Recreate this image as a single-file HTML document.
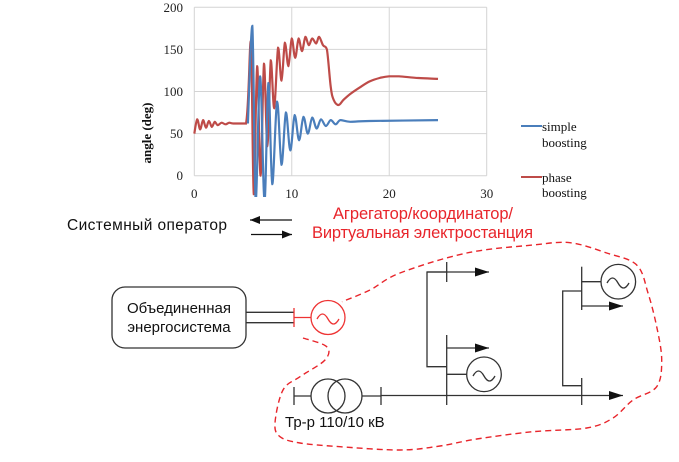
<!DOCTYPE html>
<html><head><meta charset="utf-8"><style>
html,body{margin:0;padding:0;background:#fff;}
svg{display:block;}
.ser{font-family:"Liberation Serif",serif;}
.sans{font-family:"Liberation Sans","Noto Sans CJK SC",sans-serif;}
</style></head><body>
<svg id="root" width="679" height="462" viewBox="0 0 679 462" xmlns="http://www.w3.org/2000/svg">
<g id="chart">
  <defs><clipPath id="pc"><rect x="150" y="0" width="350" height="197"/></clipPath></defs>
  <g id="grid"></g>
  <g id="yticks" class="ser" font-size="13" fill="#222" text-anchor="end"></g>
  <g id="xticks" class="ser" font-size="13" fill="#222" text-anchor="middle"></g>
  <text class="ser" font-size="13" font-weight="bold" fill="#111" text-anchor="middle" transform="translate(151,133) rotate(-90)">angle (deg)</text>
  <g id="series" clip-path="url(#pc)"></g>
  <g class="ser" font-size="13" fill="#111">
    <g>
      <line x1="521" y1="126" x2="542" y2="126" stroke="#4a7ebb" stroke-width="2"/>
      <text x="542" y="131">simple</text><text x="542" y="147">boosting</text>
    </g>
    <g>
      <line x1="521" y1="177" x2="542" y2="177" stroke="#be4b48" stroke-width="2"/>
      <text x="542" y="182">phase</text><text x="542" y="197">boosting</text>
    </g>
  </g>
</g>

<g stroke="#333" stroke-width="1.3" fill="none">
  <defs>
    <marker id="ah" markerWidth="10" markerHeight="8" refX="10" refY="4" orient="auto" markerUnits="userSpaceOnUse"><path d="M0,0 L10,4 L0,8 Z" fill="#111" stroke="none"/></marker>
    <marker id="ah2" markerWidth="14" markerHeight="9" refX="14" refY="4.5" orient="auto" markerUnits="userSpaceOnUse"><path d="M0,0 L14,4.5 L0,9 Z" fill="#111" stroke="none"/></marker>
  </defs>
  <text class="sans" x="67" y="230" font-size="15.5" fill="#111" stroke="none" textLength="160">Системный оператор</text>
  <line x1="292" y1="220" x2="250" y2="220" stroke="#111" marker-end="url(#ah)"/>
  <line x1="251" y1="234.5" x2="292" y2="234.5" stroke="#111" marker-end="url(#ah)"/>
  <text class="sans" x="333" y="219" font-size="16.5" fill="#e8252b" stroke="none" textLength="180">Агрегатор/координатор/</text>
  <text class="sans" x="312" y="238" font-size="16.5" fill="#e8252b" stroke="none" textLength="221">Виртуальная электростанция</text>

  <rect x="112" y="287" width="134" height="61" rx="13"/>
  <text class="sans" x="179" y="313" font-size="15" fill="#111" stroke="none" text-anchor="middle">Объединенная</text>
  <text class="sans" x="179" y="332" font-size="15" fill="#111" stroke="none" text-anchor="middle">энергосистема</text>
  <line x1="246" y1="312.3" x2="294" y2="312.3"/><line x1="246" y1="322.7" x2="294" y2="322.7"/>
  <g stroke="#e33">
    <line x1="294" y1="308" x2="294" y2="327"/>
    <line x1="294" y1="317.5" x2="311" y2="317.5"/>
    <circle cx="328" cy="317.5" r="17"/>
    <path d="M317,319 q5.5,-10 11,0 t11,0"/>
  </g>
  <g>
    <line x1="294" y1="387" x2="294" y2="405"/>
    <line x1="294" y1="396" x2="311" y2="396"/>
    <circle cx="328" cy="396" r="17"/><circle cx="345" cy="396" r="17"/>
    <line x1="362" y1="396" x2="381" y2="396"/>
    <line x1="381" y1="387" x2="381" y2="405"/>
  </g>
  <text class="sans" x="285" y="427" font-size="15" fill="#111" stroke="none">Тр-р 110/10 кВ</text>
  <line x1="381" y1="395.5" x2="623" y2="395.5" marker-end="url(#ah2)"/>
  <line x1="446.7" y1="262" x2="446.7" y2="282"/>
  <line x1="427" y1="272" x2="489" y2="272" marker-end="url(#ah2)"/>
  <polyline points="446.7,272 427,272 427,366.7 446.7,366.7"/>
  <line x1="446.7" y1="335" x2="446.7" y2="405"/>
  <line x1="446.7" y1="348" x2="489" y2="348" marker-end="url(#ah2)"/>
  <line x1="446.7" y1="374.3" x2="467" y2="374.3"/>
  <circle cx="484" cy="374.3" r="17.3"/>
  <path d="M473,376 q5.5,-10 11,0 t11,0"/>
  <line x1="581.7" y1="266.7" x2="581.7" y2="310"/>
  <line x1="581.7" y1="281.7" x2="601" y2="281.7"/>
  <circle cx="618.3" cy="281.7" r="17.3"/>
  <path d="M607,283 q5.5,-10 11,0 t11,0"/>
  <line x1="581.7" y1="306" x2="623" y2="306" marker-end="url(#ah2)"/>
  <polyline points="581.7,291 562.7,291 562.7,385.7 581.7,385.7"/>
  <line x1="581.7" y1="378" x2="581.7" y2="405"/>
  <path id="boundary" stroke="#e8252b" stroke-width="1.4" stroke-dasharray="6,4"/>
</g>
</svg>
<script>
const xTicks = [0, 10, 20, 30];
const yTicks = [0, 50, 100, 150, 200];
const blueT = [5.5,5.95,6.3,6.75,7.2,7.6,8.0,8.5,8.95,9.4,9.85,10.3,10.75,11.2,11.65,12.1,12.55,13,13.5,14,14.5,15,16,18,25];
const blueV = [62,178,-30,118,-30,110,-10,88,13,75,30,72,42,70,50,69,56,67,59,66,61,66,64,65,66];
const redT = [0,0.3,0.6,0.9,1.2,1.5,1.8,2.1,2.4,2.8,3.2,3.6,4,5.3,5.8,6.1,6.45,6.8,7.15,7.5,7.85,8.2,8.6,8.95,9.3,9.65,10,10.35,10.7,11.05,11.4,11.75,12.1,12.5,12.8,13.2,13.6,14,14.3,14.8,15.3,16,17,18,19,20,21,23,25];
const redV = [50,67,55,66,57,65,58,64,60,63,61,63,62,62,160,-22,130,0,133,35,137,80,152,113,158,130,163,140,163,148,165,155,163,157,165,155,150,105,90,84,90,97,105,112,116,118,118,116,115];

const NS = "http://www.w3.org/2000/svg";
function xS(t){ return 194.3 + t * (486.7 - 194.3) / 30; }
function yS(v){ return 175.7 - v * (175.7 - 7.3) / 200; }
function mk(tag, attrs, parent){ const e = document.createElementNS(NS, tag); for (const k in attrs) e.setAttribute(k, attrs[k]); parent.appendChild(e); return e; }

const grid = document.getElementById('grid');
xTicks.forEach(t => {
  const l = mk('line', {x1:xS(t), x2:xS(t), y1:yS(200), y2:yS(0), stroke:'#d4d4d4', 'stroke-width':1}, grid);
  
  
  const tx = mk('text', {x:xS(t), y:198}, document.getElementById('xticks'));
  tx.textContent = t;
  
  
});
yTicks.forEach(v => {
  const l = mk('line', {x1:xS(0), x2:xS(30), y1:yS(v), y2:yS(v), stroke:'#d4d4d4', 'stroke-width':1}, grid);
  
  
  const tx = mk('text', {x:183, y:yS(v) + 4.5}, document.getElementById('yticks'));
  tx.textContent = v;
  
  
});
function clamp(v, a, b){ const lo = Math.min(a,b), hi = Math.max(a,b); return Math.max(lo, Math.min(hi, v)); }
function smooth(pts, mono){
  let d = 'M' + pts[0][0] + ',' + pts[0][1];
  for (let i = 0; i < pts.length - 1; i++) {
    const p0 = pts[i-1] || pts[i], p1 = pts[i], p2 = pts[i+1], p3 = pts[i+2] || p2;
    let c1 = [p1[0] + (p2[0]-p0[0])/6, p1[1] + (p2[1]-p0[1])/6];
    let c2 = [p2[0] - (p3[0]-p1[0])/6, p2[1] - (p3[1]-p1[1])/6];
    if (mono) { c1[1] = clamp(c1[1], p1[1], p2[1]); c2[1] = clamp(c2[1], p1[1], p2[1]); }
    d += ' C' + c1[0].toFixed(1) + ',' + c1[1].toFixed(1) + ' ' + c2[0].toFixed(1) + ',' + c2[1].toFixed(1) + ' ' + p2[0].toFixed(1) + ',' + p2[1].toFixed(1);
  }
  return d;
}
const ser = document.getElementById('series');
const rl = mk('path', {d: smooth(redT.map((t,i)=>[xS(t), yS(redV[i])]), true), fill:'none', stroke:'#be4b48', 'stroke-width':2.2}, ser);


const bl = mk('path', {d: smooth(blueT.map((t,i)=>[xS(t), yS(blueV[i])]), true), fill:'none', stroke:'#4a7ebb', 'stroke-width':2.2}, ser);



const bpts = [[303,338],[326.7,346.7],[325,360],[300,376.7],[283,390],[275,423],[280,436.7],[300,443],[340,446.7],[400,450],[440,446],[476.7,439],[533,431.7],[586.7,428],[613,418],[633,400],[656.7,386.7],[661.7,360],[656.7,326.7],[648,293],[636.7,265],[606.7,253],[570,242.7],[533,245],[466.7,253],[400,273],[370,290],[342,301.7]];
document.getElementById('boundary').setAttribute('d', smooth(bpts, false));
</script>
</body></html>
